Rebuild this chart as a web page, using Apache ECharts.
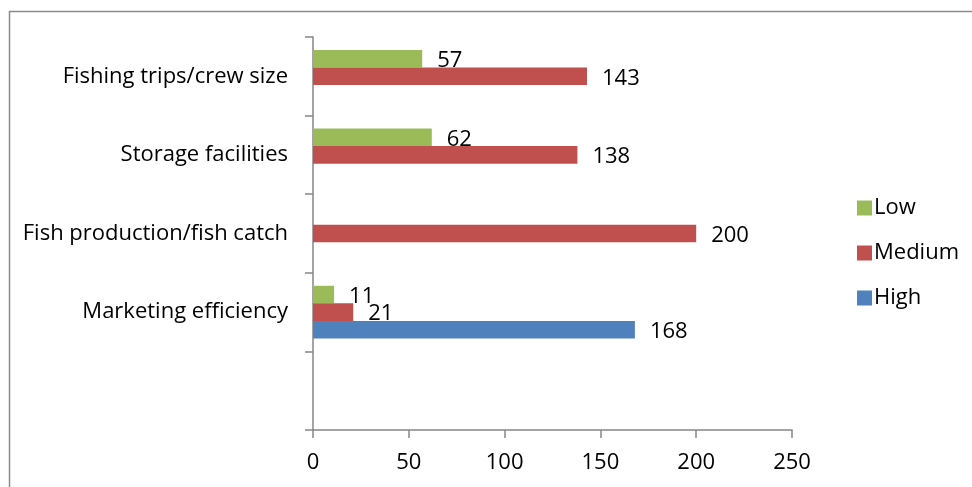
<!DOCTYPE html>
<html>
<head>
<meta charset="utf-8">
<script src="https://cdn.jsdelivr.net/npm/echarts@6/dist/echarts.min.js"></script>
<style>html,body{margin:0;padding:0;background:#fff}#c{width:972px;height:487px}</style>
</head>
<body>
<div id="c"></div>
<script>
const categories = ['', 'Marketing efficiency', 'Fish production/fish catch', 'Storage facilities', 'Fishing trips/crew size'];
const seriesNames = ['Low', 'Medium', 'High'];
const highValues = [null, 168, null, null, null];
const mediumValues = [null, 21, 200, 138, 143];
const lowValues = [null, 11, null, 62, 57];
const xTicks = [0, 50, 100, 150, 200, 250];
const legendOrder = ['Low', 'Medium', 'High'];

const FONT = 'Open Sans';
const FS = 22;
const colors = { High: '#4F81BD', Medium: '#C0504D', Low: '#9BBB59' };
const valuesByName = { High: highValues, Medium: mediumValues, Low: lowValues };

const chart = echarts.init(document.getElementById('c'));
chart.setOption({
  animation: false,
  textStyle: { fontFamily: FONT },
  graphic: [{
    type: 'rect', left: 7, top: 9,
    shape: { width: 1000, height: 600 },
    style: { fill: 'none', stroke: '#8a8a8a', lineWidth: 1.5 },
    silent: true
  }],
  grid: { left: 313, right: 180, top: 37, bottom: 57, containLabel: false },
  legend: {
    orient: 'vertical', left: 852, top: 192,
    data: legendOrder,
    itemWidth: 15, itemHeight: 15, itemGap: 23,
    icon: 'rect',
    textStyle: { fontFamily: FONT, fontSize: FS, color: '#000', lineHeight: 22, padding: [0, 0, 0, -3] }
  },
  xAxis: {
    type: 'value', min: xTicks[0], max: xTicks[xTicks.length - 1], interval: 50,
    axisLine: { show: true, lineStyle: { color: '#868686', width: 1.5 } },
    axisTick: { show: true, length: 8, lineStyle: { color: '#868686', width: 1.5 } },
    splitLine: { show: false },
    axisLabel: { fontFamily: FONT, fontSize: FS, color: '#000', margin: 22 }
  },
  yAxis: {
    type: 'category', data: categories,
    axisLine: { show: true, lineStyle: { color: '#868686', width: 1.5 } },
    axisTick: { show: true, length: 8, lineStyle: { color: '#868686', width: 1.5 } },
    axisLabel: { fontFamily: FONT, fontSize: FS, color: '#000', margin: 25 }
  },
  series: seriesNames.map(name => ({
    name, type: 'bar', data: valuesByName[name],
    barGap: '0%', barCategoryGap: '33%',
    itemStyle: { color: colors[name] },
    label: { show: true, position: 'right', distance: 15, offset: [0, 2], fontFamily: FONT, fontSize: FS, color: '#000' }
  }))
});
</script>
</body>
</html>
